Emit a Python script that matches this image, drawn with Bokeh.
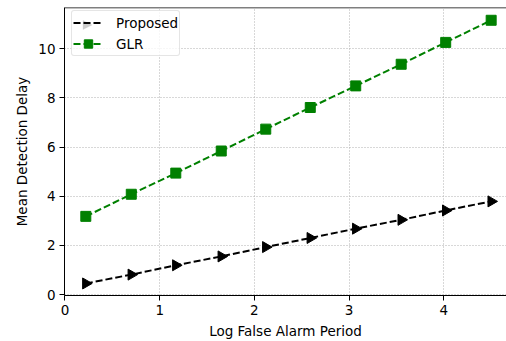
import math
from bokeh.plotting import figure
from bokeh.models import Span, Legend, LegendItem, FixedTicker, Range1d, PolyAnnotation
from bokeh.embed import file_html
from bokeh.resources import INLINE

log_far = [0.22, 0.70, 1.17, 1.65, 2.12, 2.59, 3.07, 3.55, 4.02, 4.50]
proposed = [0.45, 0.81, 1.19, 1.55, 1.93, 2.30, 2.68, 3.04, 3.42, 3.79]
glr = [3.18, 4.08, 4.94, 5.84, 6.73, 7.61, 8.49, 9.37, 10.26, 11.16]
x_ticks = [0, 1, 2, 3, 4]
y_ticks = [0, 2, 4, 6, 8, 10]

FONT = "DejaVu Sans"
FS = "13.5px"
GREEN = "#008000"
Y_END = 11.68

p = figure(width=506, height=341, output_backend="svg", toolbar_location=None,
           x_range=Range1d(-0.005, 4.662), y_range=Range1d(-0.04, Y_END),
           min_border_left=64, min_border_right=0, min_border_top=7, min_border_bottom=45)
p.outline_line_color = None
p.background_fill_color = "white"
p.border_fill_color = "white"

for ax in (p.xaxis[0], p.yaxis[0]):
    ax.major_tick_out = 5
    ax.major_tick_in = 0
    ax.minor_tick_line_color = None
    ax.axis_line_color = "black"
    ax.axis_line_width = 1
    ax.major_tick_line_color = "black"
    ax.major_label_text_font = FONT
    ax.major_label_text_font_size = FS
    ax.major_label_text_color = "black"
    ax.axis_label_text_font = FONT
    ax.axis_label_text_font_size = FS
    ax.axis_label_text_font_style = "normal"
    ax.axis_label_text_color = "black"
    ax.major_label_standoff = 4
    ax.axis_label_standoff = 5

p.xaxis[0].ticker = FixedTicker(ticks=x_ticks)
p.yaxis[0].ticker = FixedTicker(ticks=y_ticks)
p.xaxis[0].axis_label = "Log False Alarm Period"
p.yaxis[0].axis_label = "Mean Detection Delay"

for g in (p.xgrid[0], p.ygrid[0]):
    g.grid_line_color = "#b0b0b0"
    g.grid_line_dash = "1 2"
    g.grid_line_width = 1

top = Span(location=Y_END, dimension="width", line_color="black", line_width=1.5)
p.add_layout(top)

l1 = p.line(log_far, proposed, line_color="black", line_width=2, line_dash="7 3")
m1 = p.scatter(log_far, proposed, marker="triangle", angle=-math.pi / 2, size=11,
               fill_color="black", line_color="black")
l2 = p.line(log_far, glr, line_color=GREEN, line_width=2, line_dash="7 3")
m2 = p.scatter(log_far, glr, marker="square", size=10, fill_color=GREEN, line_color=GREEN)

legend = Legend(items=[LegendItem(label="Proposed", renderers=[l1]),
                       LegendItem(label="GLR", renderers=[l2, m2])],
                location=(7, 239), margin=0, padding=1, spacing=0,
                glyph_width=30, glyph_height=21, label_height=21, label_standoff=13,
                label_text_font=FONT, label_text_font_size=FS, label_text_color="black",
                border_line_color="#cccccc", border_line_width=1,
                background_fill_color="white", background_fill_alpha=0.8)
if hasattr(legend, "border_radius"):
    legend.border_radius = 3
p.add_layout(legend)

# right-pointing legend symbol for "Proposed" (canvas pixel units)
tri = PolyAnnotation(xs=[82.5, 82.5, 91.5], ys=[20, 29, 24.5], xs_units="canvas", ys_units="canvas",
                     fill_color="black", fill_alpha=1.0, line_color="black", line_width=1,
                     level="overlay")
p.add_layout(tri)

open("out.html", "w").write(file_html(p, INLINE))
